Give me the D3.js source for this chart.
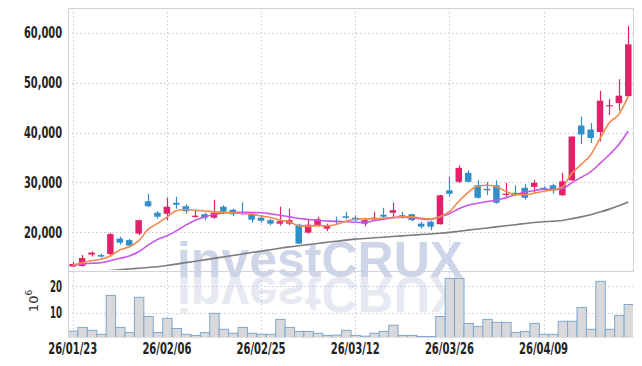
<!DOCTYPE html>
<html><head><meta charset="utf-8">
<script src="https://cdn.jsdelivr.net/npm/d3@7/dist/d3.min.js"></script>
<style>body{margin:0;background:#fff}svg{display:block}</style>
</head><body><svg id="c" width="642" height="366"></svg>
<script>
const dates = ["26/01/23","26/01/26","26/01/27","26/01/28","26/01/29","26/01/30","26/02/02","26/02/03","26/02/04","26/02/05",
"26/02/06","26/02/09","26/02/10","26/02/11","26/02/12","26/02/13","26/02/19","26/02/20","26/02/23","26/02/24",
"26/02/25","26/02/26","26/02/27","26/03/03","26/03/04","26/03/05","26/03/06","26/03/09","26/03/10","26/03/11",
"26/03/12","26/03/13","26/03/16","26/03/17","26/03/18","26/03/19","26/03/20","26/03/23","26/03/24","26/03/25",
"26/03/26","26/03/27","26/03/30","26/03/31","26/04/01","26/04/02","26/04/03","26/04/06","26/04/07","26/04/08",
"26/04/09","26/04/10","26/04/13","26/04/14","26/04/15","26/04/16","26/04/17","26/04/20","26/04/21","26/04/22"];
const open  = [13100,13200,15500,15400,15600,18700,18400,19700,26200,23900,23700,25900,25200,23100,23600,22900,25100,24500,24000,23600,
22900,22400,21700,21700,21500,19900,21400,20700,22300,23200,22900,21700,22600,23500,23900,23400,23600,21700,22100,21600,
28400,30100,31900,29400,28700,29400,27500,27900,28900,29100,28900,29400,27400,30400,41400,40600,40100,45400,45900,47300];
const high  = [14000,15400,16100,15700,19900,19100,18600,22500,27700,24200,26900,27100,25600,24400,23900,26500,25400,24700,26000,24100,
23300,22700,25100,24700,21700,22600,23100,21700,23100,24100,23400,22900,24100,24900,25900,24100,23700,22100,22300,27500,
31100,33400,32400,30400,30100,30400,29900,29400,29600,30500,29200,29700,31900,39200,43200,41900,48400,46700,50700,61400];
const low   = [13000,13100,15100,14900,15100,17500,16900,19400,25100,22700,22400,24700,23700,22900,22400,22700,23600,23200,23400,21900,
21900,21400,21300,21400,17600,19700,21100,20200,21500,22600,22200,21200,22400,22700,22900,22700,22200,20700,20400,21500,
27200,29900,30000,26700,27400,25700,27100,27200,26500,27900,28400,27700,27300,30300,37700,37900,38200,43500,44400,47200];
const close = [13600,14800,15900,15100,19600,17900,17300,22400,25200,23100,25100,25500,24200,23300,22900,23900,24100,23600,23700,22500,
22300,21700,22200,22400,17700,21500,22600,21300,22100,22900,22400,22400,22900,23100,24400,23100,22400,21100,21100,27400,
27700,32900,30100,26900,28400,25900,27700,27700,26900,29900,28600,28400,30200,39200,39600,38900,46400,45500,47400,57700];
const volume = [3.1,4.5,3.4,1.9,16.5,4.5,2.6,15.8,8.6,2.6,7.9,4.1,1.9,1.5,2.6,9.8,3.8,2.3,4.5,2.3,
1.9,1.9,7.5,4.5,3.0,3.0,2.3,1.5,1.6,3.4,1.5,1.2,2.3,3.0,5.3,1.5,1.5,1.1,1.1,8.6,
22.9,22.9,6.0,4.8,7.5,6.4,6.4,2.6,3.0,6.0,1.9,1.9,6.8,6.8,12.0,3.8,21.8,3.8,9.0,13.1];
const ma5 = [13400,13860,14260,14540,15260,16400,17060,18260,20540,21740,23000,24300,24540,24400,24260,24060,23940,23860,23740,23600,
23260,22940,22400,22060,21300,21200,21300,21260,21540,22200,22600,22660,22660,22800,22940,23060,23060,22800,22660,23100,
24100,26200,28000,29200,29400,29100,28200,27500,27500,27800,28200,28500,29100,31800,33600,35500,38800,42000,43650,47300];
const ma10 = [13340,13600,13740,13860,14260,14740,15200,16060,17400,18540,19260,20260,21400,22400,23060,23540,23860,24000,24000,23940,
23900,23700,23400,23100,22750,22550,22350,22250,22150,22100,22000,21950,22300,22600,22900,23000,22900,22650,22540,23100,
23700,24700,25400,25800,26150,26400,26900,27500,28000,28350,28600,28500,28700,29900,31000,32100,33800,35600,37600,40300];
const ma60 = [11600,11800,12000,12150,12300,12450,12600,12750,12900,13060,13300,13580,13880,14160,14440,14740,15020,15320,15600,15900,
16180,16460,16760,17040,17280,17500,17720,17960,18180,18400,18600,18720,18860,18980,19120,19260,19380,19520,19640,19780,
19960,20180,20400,20620,20840,21060,21280,21500,21720,21940,22080,22200,22340,22700,23060,23500,24040,24620,25300,26060];
const priceTicks = [20000,30000,40000,50000,60000];
const volTicks = [10,20];
const dateTicks = ["26/01/23","26/02/06","26/02/25","26/03/12","26/03/26","26/04/09"];

const UP = "#e2216b", DOWN = "#2f8fc9";
const svg = d3.select("#c");
const L = 68, R = 633, PT = 8, PB = 270, VT = 272, VB = 337;
const x = d3.scaleBand().domain(dates).range([L, R]).padding(0);
const cx = d => x(d) + x.bandwidth() / 2;
const y = d3.scaleLinear().domain([12400, 65000]).range([PB, PT]);
const yv = d3.scaleLinear().domain([0, 25.3]).range([339.4, VT]);
const font = "'DejaVu Sans Condensed','Roboto',sans-serif";

const defs = svg.append("defs");
defs.append("clipPath").attr("id", "cp").append("rect").attr("x", L).attr("y", PT).attr("width", R - L).attr("height", PB - PT);
defs.append("clipPath").attr("id", "cv").append("rect").attr("x", L).attr("y", VT).attr("width", R - L).attr("height", VB - VT);

// watermark
const wm = svg.append("g").attr("font-family", "'Liberation Sans','Arial',sans-serif").attr("font-weight", "bold").attr("font-size", 50);
wm.append("text").attr("x", 320).attr("y", 277).attr("text-anchor", "middle").attr("fill", "#cfd5e8").text("investCRUX");
wm.append("text").attr("transform", "translate(0,554) scale(1,-1)").attr("x", 320).attr("y", 277).attr("text-anchor", "middle")
  .attr("fill", "#e6e9f2").text("investCRUX");

// grid
const grid = svg.append("g").attr("stroke", "#c3c8de").attr("stroke-dasharray", "1.5,2.5").attr("stroke-width", 1);
priceTicks.forEach(t => grid.append("line").attr("x1", L).attr("x2", R).attr("y1", Math.round(y(t)) + 0.5).attr("y2", Math.round(y(t)) + 0.5));
volTicks.forEach(t => grid.append("line").attr("x1", L).attr("x2", R).attr("y1", Math.round(yv(t)) + 0.5).attr("y2", Math.round(yv(t)) + 0.5));
dateTicks.forEach(d => {
  const xx = Math.round(cx(d)) + 0.5;
  grid.append("line").attr("x1", xx).attr("x2", xx).attr("y1", PT).attr("y2", PB);
  grid.append("line").attr("x1", xx).attr("x2", xx).attr("y1", VT).attr("y2", VB);
});

// volume bars
svg.append("g").attr("clip-path", "url(#cv)").selectAll("rect").data(dates).join("rect")
  .attr("x", d => x(d) + 0.5).attr("width", x.bandwidth())
  .attr("y", (d, i) => yv(volume[i])).attr("height", (d, i) => VB + 2 - yv(volume[i]))
  .attr("fill", "#d9d9db").attr("stroke", "#7ea8cd").attr("stroke-width", 1);

// candles
const cg = svg.append("g").attr("clip-path", "url(#cp)");
const bw = 6.5;
cg.selectAll("line").data(dates).join("line")
  .attr("x1", d => Math.round(cx(d)) + 0.5).attr("x2", d => Math.round(cx(d)) + 0.5)
  .attr("y1", (d, i) => y(high[i])).attr("y2", (d, i) => y(low[i]))
  .attr("stroke", (d, i) => close[i] >= open[i] ? UP : DOWN).attr("stroke-width", 1.2);
cg.selectAll("rect").data(dates).join("rect")
  .attr("x", d => cx(d) - bw / 2).attr("width", bw)
  .attr("y", (d, i) => y(Math.max(open[i], close[i])))
  .attr("height", (d, i) => Math.max(1.2, Math.abs(y(open[i]) - y(close[i]))))
  .attr("fill", (d, i) => close[i] >= open[i] ? UP : DOWN);

// moving averages
const line = d3.line().x((v, i) => cx(dates[i])).y(v => y(v)).curve(d3.curveMonotoneX);
const lg = svg.append("g").attr("clip-path", "url(#cp)").attr("fill", "none");
lg.append("path").attr("d", line(ma60)).attr("stroke", "#7b7b80").attr("stroke-width", 1.6);
lg.append("path").attr("d", line(ma10)).attr("stroke", "#c955e8").attr("stroke-width", 1.6);
lg.append("path").attr("d", line(ma5)).attr("stroke", "#f08a4e").attr("stroke-width", 1.6);

// frame
const fr = svg.append("g").attr("stroke", "#cfd2dc").attr("fill", "none");
fr.append("rect").attr("x", L + 0.5).attr("y", PT + 0.5).attr("width", R - L).attr("height", PB - PT + 1);
fr.append("line").attr("x1", L + 0.5).attr("x2", L + 0.5).attr("y1", VT).attr("y2", VB);
fr.append("line").attr("x1", L).attr("x2", R + 1).attr("y1", VB + 0.5).attr("y2", VB + 0.5).attr("stroke", "#e0e0e0");

// axis labels
const ax = svg.append("g").attr("font-family", font).attr("font-weight", "bold").attr("font-size", 15).attr("fill", "#222");
priceTicks.forEach(t => ax.append("text").attr("x", 62).attr("y", y(t)).attr("dy", "0.36em").attr("text-anchor", "end")
  .attr("textLength", 38).attr("lengthAdjust", "spacingAndGlyphs").text(d3.format(",")(t)));
volTicks.forEach(t => ax.append("text").attr("x", 62).attr("y", yv(t)).attr("dy", "0.36em").attr("text-anchor", "end")
  .attr("textLength", 12).attr("lengthAdjust", "spacingAndGlyphs").text(t));
dateTicks.forEach(d => ax.append("text").attr("x", cx(d)).attr("y", 354).attr("text-anchor", "middle")
  .attr("textLength", 49).attr("lengthAdjust", "spacingAndGlyphs").text(d));
const exp = svg.append("text").attr("transform", "translate(38,301) rotate(-90)").attr("text-anchor", "middle")
  .attr("font-family", "'DejaVu Sans',sans-serif").attr("font-size", 13).attr("fill", "#333");
exp.append("tspan").text("10");
exp.append("tspan").attr("dy", -6).attr("font-size", 9).text("6");
</script></body></html>
